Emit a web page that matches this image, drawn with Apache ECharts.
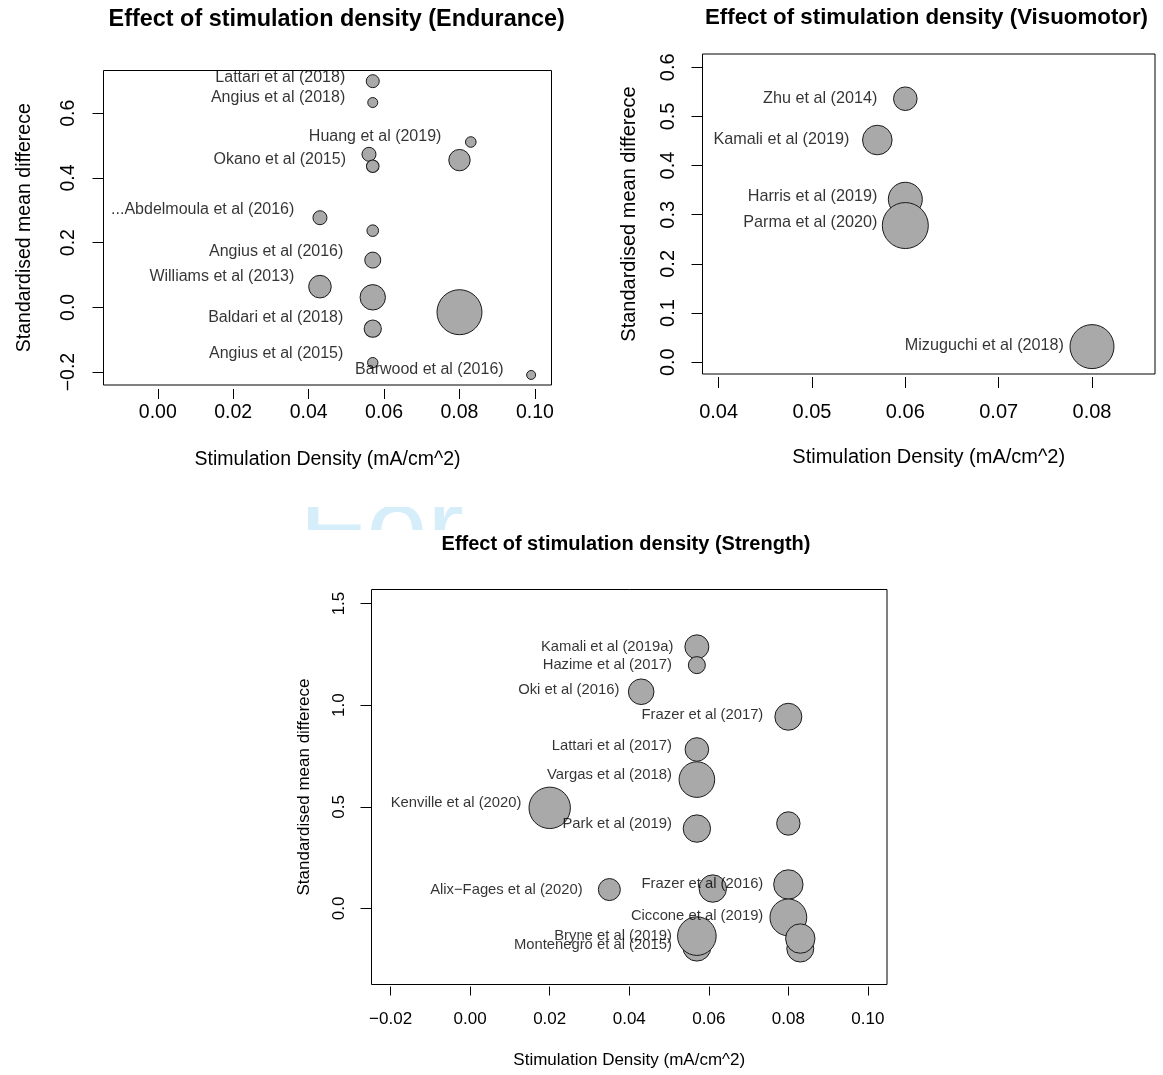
<!DOCTYPE html>
<html>
<head>
<meta charset="utf-8">
<script src="https://cdn.jsdelivr.net/npm/echarts@6/dist/echarts.min.js"></script>
<style>
  html, body { margin: 0; padding: 0; background: #ffffff; }
  #chart { width: 1163px; height: 1075px; }
</style>
</head>
<body>
<div id="chart"></div>
<script>
// ---------------- DATA ----------------
// Endurance panel: bubbles (x = stimulation density, y = SMD, w = bubble radius)
const enduranceX = [0.057, 0.057, 0.083, 0.056, 0.057, 0.080, 0.043, 0.057, 0.057, 0.043, 0.057, 0.080, 0.057, 0.057, 0.099];
const enduranceY = [0.699, 0.633, 0.511, 0.473, 0.436, 0.455, 0.277, 0.237, 0.146, 0.064, 0.031, -0.015, -0.066, -0.171, -0.209];
const enduranceW = [6.5, 5, 5.3, 7, 6.3, 10.7, 7, 5.8, 8, 11.3, 12.7, 22.5, 8.6, 5.2, 4.5];
const enduranceLabels = ["Lattari et al (2018)", "Angius et al (2018)", "Huang et al (2019)", "Okano et al (2015)",
  "...Abdelmoula et al (2016)", "Angius et al (2016)", "Williams et al (2013)", "Baldari et al (2018)",
  "Angius et al (2015)", "Barwood et al (2016)"];
const enduranceLabelX = [0.0497, 0.0497, 0.0752, 0.0499, 0.0362, 0.0492, 0.0362, 0.0492, 0.0492, 0.0917];
const enduranceLabelY = [0.710, 0.647, 0.529, 0.458, 0.3015, 0.172, 0.0945, -0.031, -0.142, -0.191];
const enduranceXTicks = [0, 0.02, 0.04, 0.06, 0.08, 0.10];
const enduranceYTicks = [-0.2, 0, 0.2, 0.4, 0.6];

// Visuomotor panel
const visuoX = [0.060, 0.057, 0.060, 0.060, 0.080];
const visuoY = [0.536, 0.452, 0.3315, 0.278, 0.0317];
const visuoW = [11.8, 14.8, 17, 23, 22];
const visuoLabels = ["Zhu et al (2014)", "Kamali et al (2019)", "Harris et al (2019)", "Parma et al (2020)", "Mizuguchi et al (2018)"];
const visuoLabelX = [0.0570, 0.0540, 0.0570, 0.0570, 0.0770];
const visuoLabelY = [0.536, 0.452, 0.338, 0.285, 0.033];
const visuoXTicks = [0.04, 0.05, 0.06, 0.07, 0.08];
const visuoYTicks = [0, 0.1, 0.2, 0.3, 0.4, 0.5, 0.6];

// Strength panel
const strengthX = [0.057, 0.057, 0.043, 0.080, 0.057, 0.057, 0.020, 0.057, 0.080, 0.035, 0.061, 0.080, 0.080, 0.083, 0.083, 0.057, 0.057];
const strengthY = [1.287, 1.197, 1.066, 0.943, 0.782, 0.634, 0.495, 0.393, 0.418, 0.093, 0.098, 0.118, -0.044, -0.197, -0.148, -0.19, -0.136];
const strengthW = [12, 8.5, 12.8, 13.5, 11.8, 17.8, 20.7, 13.7, 11.7, 11, 13.7, 14.7, 18.4, 13.5, 14.7, 14, 19.3];
const strengthLabels = ["Kamali et al (2019a)", "Hazime et al (2017)", "Oki et al (2016)", "Frazer et al (2017)",
  "Lattari et al (2017)", "Vargas et al (2018)", "Kenville et al (2020)", "Park et al (2019)",
  "Alix\u2212Fages et al (2020)", "Frazer et al (2016)", "Ciccone et al (2019)", "Bryne et al (2019)", "Montenegro et al (2015)"];
const strengthLabelX = [0.0511, 0.0507, 0.0375, 0.0737, 0.0507, 0.0507, 0.0129, 0.0507, 0.0283, 0.0737, 0.0737, 0.0507, 0.0507];
const strengthLabelY = [1.287, 1.200, 1.074, 0.954, 0.798, 0.656, 0.519, 0.418, 0.090, 0.120, -0.038, -0.136, -0.180];
const strengthXTicks = [-0.02, 0, 0.02, 0.04, 0.06, 0.08, 0.10];
const strengthYTicks = [0, 0.5, 1.0, 1.5];

const titles = ["Effect of stimulation density (Endurance)", "Effect of stimulation density (Visuomotor)", "Effect of stimulation density (Strength)"];
const xTitle = "Stimulation Density (mA/cm^2)";
const yTitle = "Standardised mean differece";
const watermarkText = "For";

// ---------------- BUILD ----------------
const FONT = "'Liberation Sans', Arial, Helvetica, sans-serif";
function fmt(v, d) {
  const s = Math.abs(v).toFixed(d);
  return (v < -1e-9 ? "\u2212" : "") + s;
}
function zip3(xs, ys, ws) { return xs.map((x, i) => [x, ys[i], ws[i]]); }
function labelData(xs, ys, names) { return xs.map((x, i) => ({ value: [x, ys[i]], name: names[i] })); }

const panels = [
  { grid: { left: 103.5, top: 70.5, width: 448, height: 314.5 },
    xMin: -0.0144, xMax: 0.1044, yMin: -0.240, yMax: 0.732,
    xTicks: enduranceXTicks, yTicks: enduranceYTicks, xDec: 2, yDec: 1,
    fs: 19.5, lfs: 16, xOffset: 4, xTickLen: 10, xLabMargin: 14, xNameGap: 61,
    yLabMargin: 25, yNameGap: 69,
    pts: zip3(enduranceX, enduranceY, enduranceW),
    labs: labelData(enduranceLabelX, enduranceLabelY, enduranceLabels) },
  { grid: { left: 702.5, top: 54, width: 452.5, height: 320 },
    xMin: 0.03827, xMax: 0.08675, yMin: -0.024, yMax: 0.627,
    xTicks: visuoXTicks, yTicks: visuoYTicks, xDec: 2, yDec: 1,
    fs: 20, lfs: 16.2, xOffset: 3, xTickLen: 11, xLabMargin: 25, xNameGap: 70,
    yLabMargin: 24, yNameGap: 63,
    pts: zip3(visuoX, visuoY, visuoW),
    labs: labelData(visuoLabelX, visuoLabelY, visuoLabels) },
  { grid: { left: 371.5, top: 589.5, width: 515.5, height: 395 },
    xMin: -0.0248, xMax: 0.1048, yMin: -0.374, yMax: 1.569,
    xTicks: strengthXTicks, yTicks: strengthYTicks, xDec: 2, yDec: 1,
    fs: 17, lfs: 14.8, xOffset: 2, xTickLen: 9, xLabMargin: 24, xNameGap: 65,
    yLabMargin: 24, yNameGap: 59,
    pts: zip3(strengthX, strengthY, strengthW),
    labs: labelData(strengthLabelX, strengthLabelY, strengthLabels) }
];

const grid = [], xAxis = [], yAxis = [], series = [];
panels.forEach((p, i) => {
  grid.push(Object.assign({ show: true, borderColor: '#000', borderWidth: 1, backgroundColor: 'transparent', containLabel: false }, p.grid));
  xAxis.push({
    gridIndex: i, type: 'value', position: 'bottom', min: p.xMin, max: p.xMax, offset: p.xOffset,
    axisLine: { show: false, onZero: false }, splitLine: { show: false },
    axisTick: { show: true, inside: false, length: p.xTickLen, customValues: p.xTicks, lineStyle: { color: '#000', width: 1 } },
    axisLabel: { show: true, customValues: p.xTicks, formatter: v => fmt(v, p.xDec), fontSize: p.fs, color: '#000', fontFamily: FONT, margin: p.xLabMargin },
    name: xTitle, nameLocation: 'middle', nameGap: p.xNameGap,
    nameTextStyle: { fontSize: p.fs, color: '#000', fontFamily: FONT }
  });
  yAxis.push({
    gridIndex: i, type: 'value', position: 'left', min: p.yMin, max: p.yMax,
    axisLine: { show: false, onZero: false }, splitLine: { show: false },
    axisTick: { show: true, inside: false, length: 11, customValues: p.yTicks, lineStyle: { color: '#000', width: 1 } },
    axisLabel: { show: true, customValues: p.yTicks, rotate: 90, formatter: v => fmt(v, p.yDec), fontSize: p.fs, color: '#000', fontFamily: FONT, margin: p.yLabMargin },
    name: yTitle, nameLocation: 'middle', nameGap: p.yNameGap, nameRotate: 90,
    nameTextStyle: { fontSize: p.fs, color: '#000', fontFamily: FONT }
  });
  series.push({
    type: 'scatter', xAxisIndex: i, yAxisIndex: i, data: p.pts, silent: true, z: 3,
    symbol: 'circle', symbolSize: d => 2 * d[2],
    itemStyle: { color: '#a9a9a9', borderColor: '#1a1a1a', borderWidth: 1, opacity: 1 },
    emphasis: { disabled: true }
  });
  series.push({
    type: 'scatter', xAxisIndex: i, yAxisIndex: i, data: p.labs, silent: true, z: 4,
    symbol: 'circle', symbolSize: 0,
    itemStyle: { color: 'rgba(0,0,0,0)' },
    label: { show: true, position: 'left', distance: 0, formatter: '{b}', fontSize: p.lfs, color: '#000', fontFamily: FONT },
    emphasis: { disabled: true }
  });
});

const graphic = [
  // faint watermark fragment (only a thin band of it is visible)
  { type: 'text', z: -3, silent: true, style: { x: 299, y: 589, text: watermarkText, fontSize: 110, fontFamily: FONT, fill: '#d5eefa', verticalAlign: 'bottom', align: 'left' } },
  { type: 'rect', z: -1, silent: true, shape: { x: 270, y: 440, width: 220, height: 67 }, style: { fill: '#ffffff' } },
  { type: 'rect', z: -1, silent: true, shape: { x: 270, y: 530, width: 220, height: 70 }, style: { fill: '#ffffff' } },
  // panel titles
  { type: 'text', z: 5, silent: true, style: { x: 336.7, y: 20, text: titles[0], fontSize: 23.4, fontWeight: 'bold', fontFamily: FONT, fill: '#000', align: 'center', verticalAlign: 'middle' } },
  { type: 'text', z: 5, silent: true, style: { x: 926.5, y: 18, text: titles[1], fontSize: 22.3, fontWeight: 'bold', fontFamily: FONT, fill: '#000', align: 'center', verticalAlign: 'middle' } },
  { type: 'text', z: 5, silent: true, style: { x: 626, y: 544, text: titles[2], fontSize: 20, fontWeight: 'bold', fontFamily: FONT, fill: '#000', align: 'center', verticalAlign: 'middle' } }
];

const chart = echarts.init(document.getElementById('chart'), null, { renderer: 'canvas' });
chart.setOption({
  animation: false,
  backgroundColor: '#ffffff',
  grid, xAxis, yAxis, series, graphic
});
</script>
</body>
</html>
